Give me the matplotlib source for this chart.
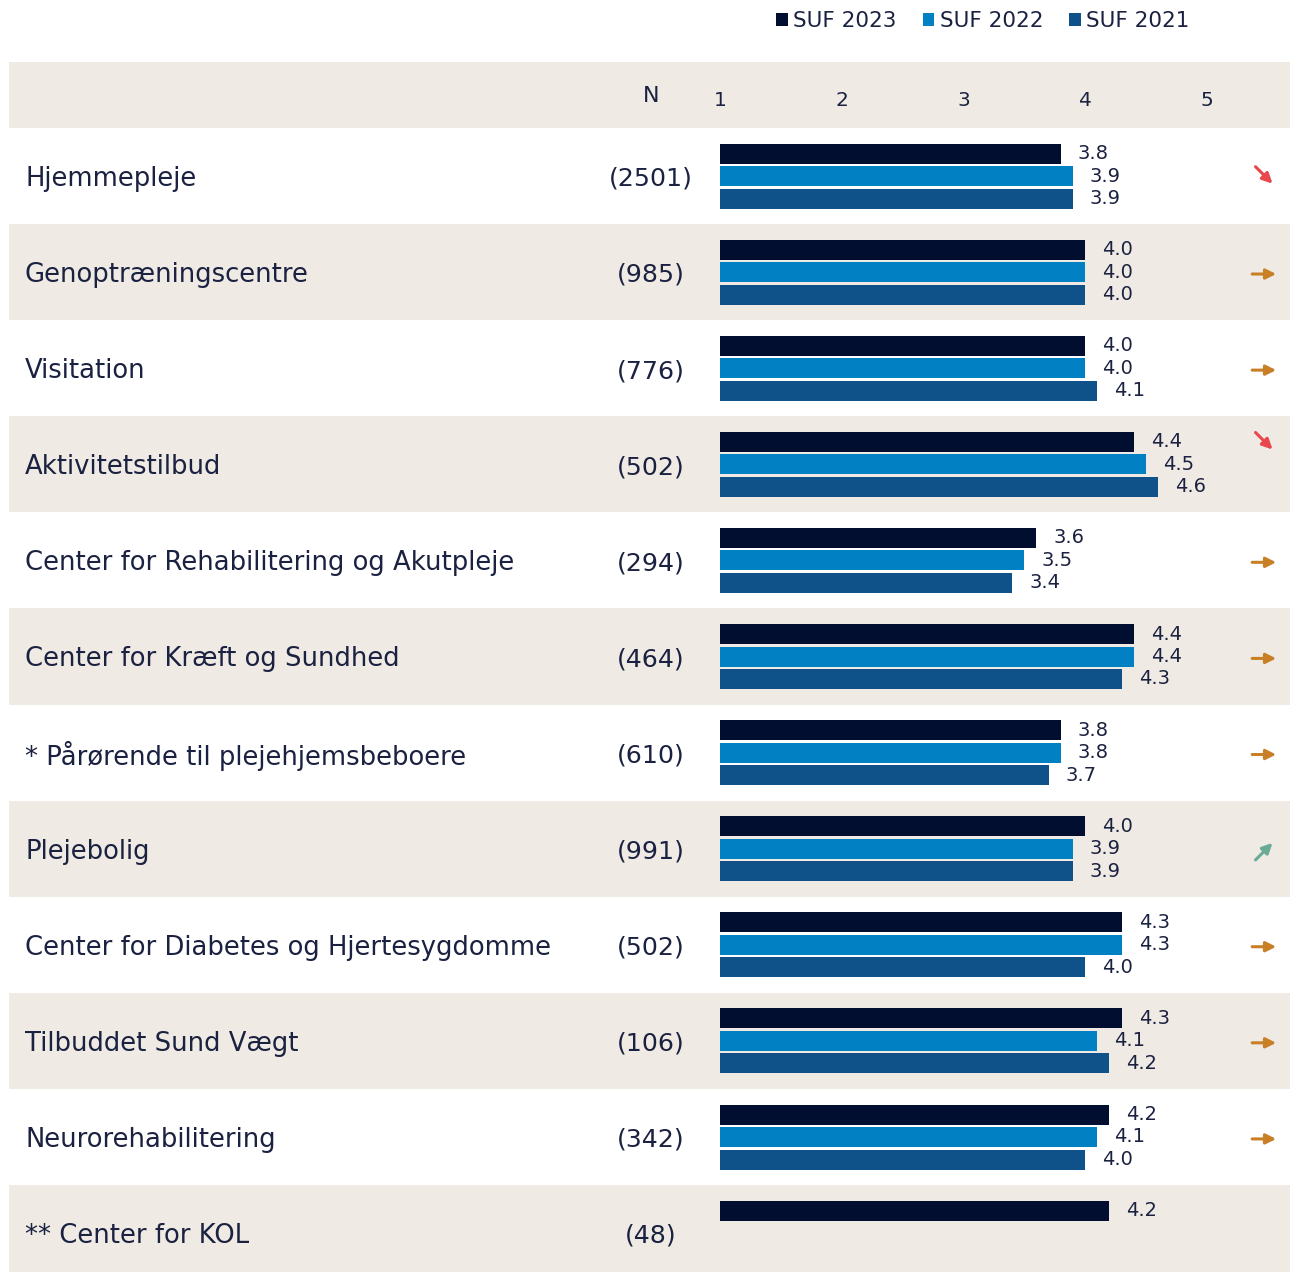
import matplotlib.pyplot as plt
from matplotlib.patches import Patch

categories = ['Hjemmepleje', 'Genoptræningscentre', 'Visitation', 'Aktivitetstilbud',
              'Center for Rehabilitering og Akutpleje', 'Center for Kræft og Sundhed',
              '* Pårørende til plejehjemsbeboere', 'Plejebolig',
              'Center for Diabetes og Hjertesygdomme', 'Tilbuddet Sund Vægt',
              'Neurorehabilitering', '** Center for KOL']
n_values = ['(2501)', '(985)', '(776)', '(502)', '(294)', '(464)', '(610)', '(991)',
            '(502)', '(106)', '(342)', '(48)']
suf_2023 = [3.8, 4.0, 4.0, 4.4, 3.6, 4.4, 3.8, 4.0, 4.3, 4.3, 4.2, 4.2]
suf_2022 = [3.9, 4.0, 4.0, 4.5, 3.5, 4.4, 3.8, 3.9, 4.3, 4.1, 4.1, None]
suf_2021 = [3.9, 4.0, 4.1, 4.6, 3.4, 4.3, 3.7, 3.9, 4.0, 4.2, 4.0, None]
trend = ['down', 'flat', 'flat', 'down', 'flat', 'flat', 'flat', 'up', 'flat', 'flat', 'flat', None]
series_names = ['SUF 2023', 'SUF 2022', 'SUF 2021']
ticks = [1, 2, 3, 4, 5]

colors = ['#020e2f', '#0180c4', '#0f5189']
beige = '#efebe4'
txt = '#1b2140'
trend_colors = {'down': '#e8474c', 'flat': '#c97f25', 'up': '#6aab97'}

plt.rcParams['font.family'] = ['DejaVu Sans']

W, H = 1290, 1272
fig = plt.figure(figsize=(W / 100, H / 100), dpi=100)
ax = fig.add_axes([0, 0, 1, 1])
ax.axis('off')

# pixel geometry -> data limits
px_per_unit = 121.7
x_one = 720
ax.set_xlim(1 - x_one / px_per_unit, 1 + (W - x_one) / px_per_unit)
row_h = 96.1
row0 = 176
ax.set_ylim((H - row0) / row_h, -row0 / row_h)

x_left = 9 / W
# header band and alternating rows
ax.axhspan(-0.5 - 66 / row_h, -0.5, xmin=x_left, xmax=1, color=beige, lw=0)
for i in range(len(categories)):
    if i % 2 == 1:
        ax.axhspan(i - 0.5, i + 0.5, xmin=x_left, xmax=1, color=beige, lw=0)

bar_h = 20 / row_h
step = 22.5 / row_h
series = [suf_2023, suf_2022, suf_2021]
for k, vals in enumerate(series):
    for i, v in enumerate(vals):
        if v is None:
            continue
        y = i + (k - 1) * step
        ax.barh(y, v - 1, left=1, height=bar_h, color=colors[k], lw=0)
        ax.text(v + 0.14, y, f'{v:.1f}', ha='left', va='center',
                fontsize=14, color=txt)

# row labels
trans = ax.get_yaxis_transform()
for i, (c, n) in enumerate(zip(categories, n_values)):
    ax.text(25 / W, i + 0.03, c, transform=trans, ha='left', va='center', fontsize=18.6, color=txt)
    ax.text(651 / W, i + 0.03, n, transform=trans, ha='center', va='center', fontsize=18.2, color=txt)

# header
hy = -0.5 - 33 / row_h
ax.text(651 / W, hy + 0.01, 'N', transform=trans, ha='center', va='center', fontsize=16, color=txt)
for t in ticks:
    ax.text(t, hy + 0.06, str(t), ha='center', va='center', fontsize=14.5, color=txt)

# trend arrows
ax_x = 1 + (1264 - x_one) / px_per_unit
for i, tr in enumerate(trend):
    if tr is None:
        continue
    y = i - step if i == 3 else i
    if tr == 'down':
        xy, off = (ax_x + 0.07, y + 0.08), (-17, 17)
    elif tr == 'up':
        xy, off = (ax_x + 0.07, y - 0.06), (-17, -17)
    else:
        xy, off = (ax_x + 0.1, y + 0.02), (-24, 0)
    ax.annotate('', xy=xy, xytext=off, textcoords='offset pixels',
                arrowprops=dict(arrowstyle='-|>', color=trend_colors[tr], lw=2.2,
                                mutation_scale=15, shrinkA=0, shrinkB=0))

handles = [Patch(facecolor=c, label=s) for c, s in zip(colors, series_names)]
fig.legend(handles=handles, ncol=3, loc='center', bbox_to_anchor=(983 / W, 1 - 21 / H),
           frameon=False, fontsize=15.5, handlelength=0.55, handleheight=0.55,
           handletextpad=0.25, columnspacing=1.2, labelcolor=txt)

fig.savefig('out.png', dpi=100, facecolor='white')
